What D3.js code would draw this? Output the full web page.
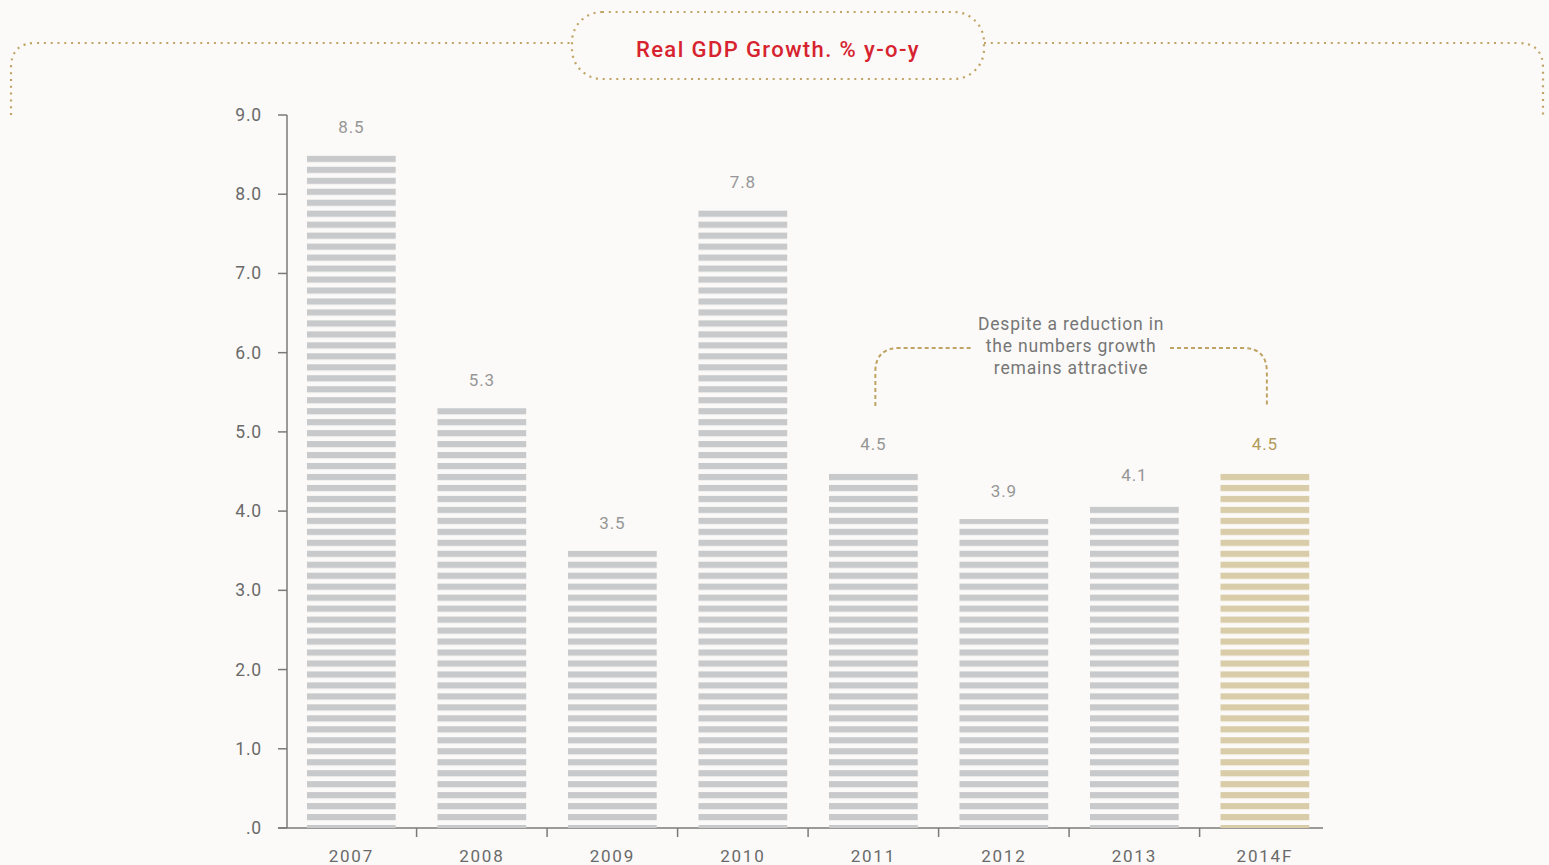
<!DOCTYPE html>
<html>
<head>
<meta charset="utf-8">
<script src="https://cdn.jsdelivr.net/npm/d3@7"></script>
<style>
  body { margin: 0; background: #fbfaf8; }
  svg { display: block; font-family: Roboto, "DejaVu Sans", sans-serif; }
</style>
</head>
<body>
<svg id="chart" width="1549" height="865"></svg>
<script>
////////////////////////////////////////////
// DATA
////////////////////////////////////////////

const years = ["2007", "2008", "2009", "2010", "2011", "2012", "2013", "2014F"];
const growth = [8.5, 5.3, 3.5, 7.8, 4.5, 3.9, 4.1, 4.5];
const forecast = ["2014F"];
const yTicks = [0, 1, 2, 3, 4, 5, 6, 7, 8, 9];
const title = "Real GDP Growth. % y-o-y";
const note = ["Despite a reduction in", "the numbers growth", "remains attractive"];

////////////////////////////////////////////
// SETUP
////////////////////////////////////////////

const svg = d3.select("#chart");
const gold = "#bfa463";
const plotL = 287, plotT = 115, plotB = 828;

const x = d3.scaleBand()
  .domain(years)
  .range([290, 1326.2])
  .paddingInner(0.32)
  .paddingOuter(0.13);

const y = d3.scaleLinear()
  .domain([0, 9])
  .range([plotB, plotT]);

// stripe patterns, anchored on the baseline
const defs = svg.append("defs");
const period = 10.97;
[["grey", "#c8c9cb"], ["gold", "#d9cca8"]].forEach(([id, col]) => {
  let p = defs.append("pattern")
    .attr("id", "stripe-" + id)
    .attr("patternUnits", "userSpaceOnUse")
    .attr("x", 0)
    .attr("y", plotB - 3)
    .attr("width", 20)
    .attr("height", period);
  p.append("rect")
    .attr("width", 20)
    .attr("height", 6.2)
    .attr("fill", col);
});

////////////////////////////////////////////
// TITLE + OUTER BRACKET
////////////////////////////////////////////

const dotted = g => g.attr("fill", "none")
  .attr("stroke", gold)
  .attr("stroke-width", 2.2)
  .attr("stroke-dasharray", "2 4.8");

svg.append("path")
  .attr("d", "M11,115 V68 Q11,43 36,43 H572")
  .call(dotted);
svg.append("path")
  .attr("d", "M984,43 H1518 Q1543,43 1543,68 V115")
  .call(dotted);

svg.append("rect")
  .attr("x", 572).attr("y", 12)
  .attr("width", 412).attr("height", 67)
  .attr("rx", 30).attr("ry", 30)
  .attr("fill", "#ffffff")
  .call(dotted);

svg.append("text")
  .attr("x", 778).attr("y", 57)
  .attr("text-anchor", "middle")
  .attr("fill", "#d6232f")
  .attr("font-size", 22)
  .attr("font-weight", 500)
  .attr("letter-spacing", 1.4)
  .text(title);

////////////////////////////////////////////
// AXES
////////////////////////////////////////////

const axisCol = "#7a7a7a";

let gy = svg.append("g");
gy.append("line")
  .attr("x1", plotL).attr("x2", plotL)
  .attr("y1", plotT).attr("y2", plotB)
  .attr("stroke", axisCol).attr("stroke-width", 1.5);
gy.selectAll("line.tick")
  .data(yTicks)
  .join("line")
  .attr("class", "tick")
  .attr("x1", plotL - 9).attr("x2", plotL)
  .attr("y1", d => y(d)).attr("y2", d => y(d))
  .attr("stroke", axisCol).attr("stroke-width", 1.5);
gy.selectAll("text")
  .data(yTicks)
  .join("text")
  .attr("x", 262)
  .attr("y", d => y(d) + 6)
  .attr("text-anchor", "end")
  .attr("fill", "#6a6a6a")
  .attr("font-size", 17.5)
  .attr("letter-spacing", 0.8)
  .text(d => d === 0 ? ".0" : d3.format(".1f")(d));

let gx = svg.append("g");
gx.append("line")
  .attr("x1", plotL - 9).attr("x2", 1323)
  .attr("y1", plotB).attr("y2", plotB)
  .attr("stroke", axisCol).attr("stroke-width", 1.5);
gx.selectAll("line.sep")
  .data(years.slice(1))
  .join("line")
  .attr("class", "sep")
  .attr("x1", d => x(d) - x.step() * x.paddingInner() / 2)
  .attr("x2", d => x(d) - x.step() * x.paddingInner() / 2)
  .attr("y1", plotB).attr("y2", plotB + 9)
  .attr("stroke", axisCol).attr("stroke-width", 1.5);
gx.selectAll("text")
  .data(years)
  .join("text")
  .attr("x", d => x(d) + x.bandwidth() / 2)
  .attr("y", plotB + 34)
  .attr("text-anchor", "middle")
  .attr("fill", "#6a6a6a")
  .attr("font-size", 17)
  .attr("letter-spacing", 1.8)
  .text(d => d);

////////////////////////////////////////////
// BARS
////////////////////////////////////////////

const isF = d => forecast.includes(d);

svg.append("g")
  .selectAll("rect")
  .data(years)
  .join("rect")
  .attr("x", d => x(d))
  .attr("width", x.bandwidth())
  .attr("y", (d, i) => y(growth[i]))
  .attr("height", (d, i) => y(0) - y(growth[i]))
  .attr("fill", d => isF(d) ? "url(#stripe-gold)" : "url(#stripe-grey)");

svg.append("g")
  .selectAll("text")
  .data(years)
  .join("text")
  .attr("x", d => x(d) + x.bandwidth() / 2)
  .attr("y", (d, i) => y(growth[i]) - 22)
  .attr("text-anchor", "middle")
  .attr("fill", d => isF(d) ? "#b39b5c" : "#969696")
  .attr("font-size", 17)
  .attr("letter-spacing", 0.8)
  .text((d, i) => d3.format(".1f")(growth[i]));

////////////////////////////////////////////
// ANNOTATION
////////////////////////////////////////////

const xa = x("2011") + x.bandwidth() / 2 + 2;
const xb = x("2014F") + x.bandwidth() / 2 + 2;
const xm = (xa + xb) / 2;

svg.append("g")
  .selectAll("text")
  .data(note)
  .join("text")
  .attr("x", xm)
  .attr("y", (d, i) => 330 + i * 22)
  .attr("text-anchor", "middle")
  .attr("fill", "#767676")
  .attr("font-size", 17.5)
  .attr("letter-spacing", 0.8)
  .text(d => d);

const dashed = g => g.attr("fill", "none")
  .attr("stroke", gold)
  .attr("stroke-width", 2)
  .attr("stroke-dasharray", "4 3");

svg.append("path")
  .attr("d", `M${xa},406 V372 Q${xa},348 ${xa + 24},348 H972`)
  .call(dashed);
svg.append("path")
  .attr("d", `M1170,348 H${xb - 24} Q${xb},348 ${xb},372 V406`)
  .call(dashed);
</script>
</body>
</html>
